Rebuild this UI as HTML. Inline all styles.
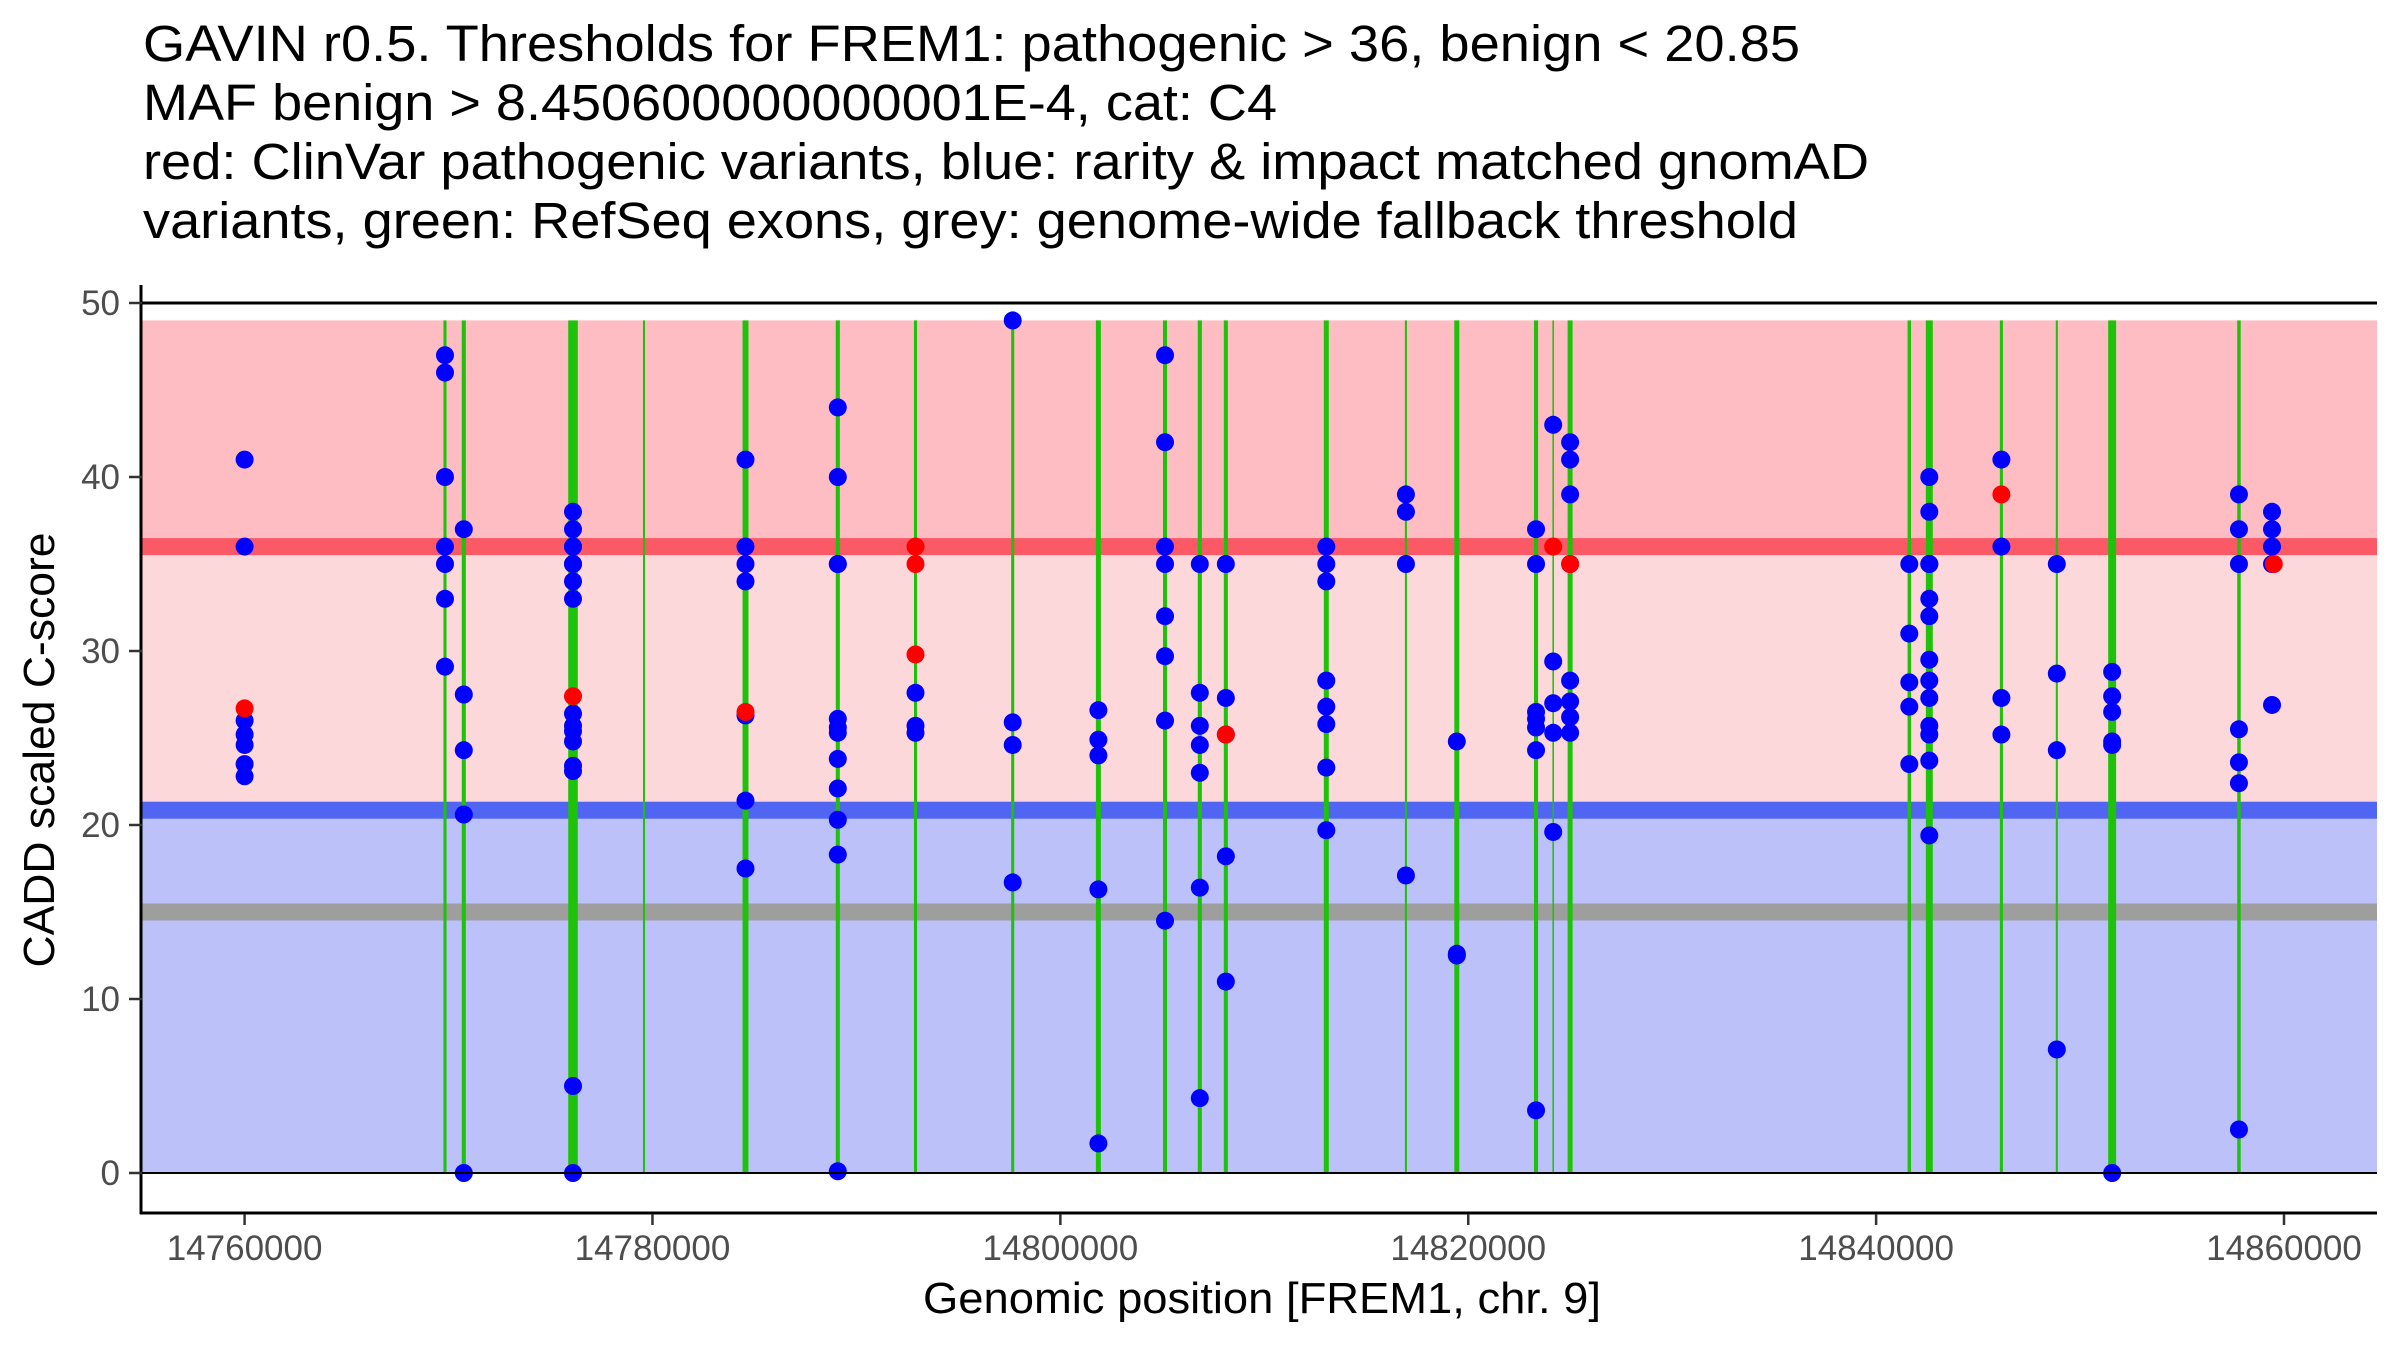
<!DOCTYPE html>
<html><head><meta charset="utf-8"><style>
html,body{margin:0;padding:0;background:#fff;}
svg{display:block;font-family:"Liberation Sans",Arial,sans-serif;}
</style></head><body>
<svg id="chart" width="2400" height="1350" viewBox="0 0 2400 1350">
<g font-size="51" fill="#000">
<text x="143" y="61" textLength="1657" lengthAdjust="spacingAndGlyphs">GAVIN r0.5. Thresholds for FREM1: pathogenic &gt; 36, benign &lt; 20.85</text>
<text x="143" y="120" textLength="1134" lengthAdjust="spacingAndGlyphs">MAF benign &gt; 8.450600000000001E-4, cat: C4</text>
<text x="143" y="179" textLength="1726" lengthAdjust="spacingAndGlyphs">red: ClinVar pathogenic variants, blue: rarity &amp; impact matched gnomAD</text>
<text x="143" y="238" textLength="1655" lengthAdjust="spacingAndGlyphs">variants, green: RefSeq exons, grey: genome-wide fallback threshold</text>
</g>
<g id="bands"></g>
<g id="exons"></g>
<g id="points"></g>
<g id="axes"></g>
<text x="1262" y="1313" font-size="44" textLength="678" lengthAdjust="spacingAndGlyphs" text-anchor="middle">Genomic position [FREM1, chr. 9]</text>
<text transform="translate(54,750) rotate(-90)" font-size="44" textLength="435" lengthAdjust="spacingAndGlyphs" text-anchor="middle">CADD scaled C-score</text>
</svg>
<script>
const xTicks = [14760000, 14780000, 14800000, 14820000, 14840000, 14860000];
const yTicks = [0, 10, 20, 30, 40, 50];
const thresholds = [36, 20.85, 15];
const bandTop = [49];
const exonStart = [14769751,14770648,14775868,14779534,14784416,14788987,14792822,14797588,14801742,14805032,14806738,14808014,14812917,14816894,14819317,14823224,14824128,14824872,14841542,14842438,14846068,14848810,14851378,14857706];
const exonEnd   = [14769901,14770848,14776338,14779634,14784706,14789187,14792972,14797738,14801987,14805232,14806938,14808214,14813162,14816994,14819562,14823424,14824204,14825117,14841712,14842778,14846218,14848910,14851768,14857876];
const groupPos = [14760000,14769826,14770748,14776103,14784561,14789087,14792897,14797663,14801865,14805132,14806838,14808114,14813040,14816944,14819440,14823324,14824166,14824995,14841627,14842608,14846143,14848860,14851573,14857791,14859412];
const groupScores = [
[41,36,26,25.2,24.6,23.5,22.8],
[47,46,40,36,35,33,29.1],
[37,27.5,24.3,20.6,0],
[38,37,36,36,35,35,34,33,26.4,25.7,25.4,24.8,23.4,23.1,5,0],
[41,36,35,34,26.3,21.4,17.5],
[44,40,35,35,26.1,25.6,25.3,23.8,22.1,20.3,18.3,0.1],
[27.6,25.7,25.3],
[49,25.9,24.6,16.7],
[26.6,24.9,24.0,16.3,1.7],
[47,42,36,35,32,29.7,26,14.5],
[35,27.6,25.7,24.6,23,16.4,4.3],
[35,27.3,25.2,18.2,11],
[36,35,34,28.3,26.8,25.8,23.3,19.7],
[39,38,35,17.1],
[24.8,12.6,12.5],
[37,35,26.5,26.1,25.6,24.3,3.6],
[43,29.4,27,25.3,19.6],
[42,41,39,35,28.3,27.1,26.2,25.3],
[35,31,28.2,26.8,23.5],
[40,38,35,35,33,32,29.5,28.3,27.3,25.7,25.2,23.7,19.4],
[41,36,27.3,25.2],
[35,28.7,24.3,7.1],
[28.8,27.4,26.5,24.8,24.6,0],
[39,37,35,25.5,23.6,22.4,2.5],
[38,37,36,35,26.9]];
const redPos = [14760000,14776103,14784561,14792897,14792897,14792897,14808114,14824166,14824995,14846143,14859500];
const redScores = [26.7,27.4,26.5,36,35,29.8,25.2,36,35,39,35];

const X0=244.6, XS=2039.4/100000, XMIN=14760000;
const Y0=1173, YS=17.4;
function xs(g){return X0+(g-XMIN)*XS;}
function ys(v){return Y0-v*YS;}
const NS='http://www.w3.org/2000/svg';
function mk(tag,attrs,parent){const e=document.createElementNS(NS,tag);for(const k in attrs)e.setAttribute(k,attrs[k]);parent.appendChild(e);return e;}
const PL=142, PR=2377;
const bands=document.getElementById('bands');
let r;
r=mk('rect',{x:PL,y:ys(bandTop[0]),width:PR-PL,height:ys(thresholds[0])-ys(bandTop[0]),fill:'#FDBDC2'},bands);


r=mk('rect',{x:PL,y:ys(thresholds[0]),width:PR-PL,height:ys(thresholds[1])-ys(thresholds[0]),fill:'#FDD8DB'},bands);


r=mk('rect',{x:PL,y:ys(thresholds[1]),width:PR-PL,height:ys(0)-ys(thresholds[1]),fill:'#BCC1F9'},bands);


r=mk('rect',{x:PL,y:ys(thresholds[0])-8.5,width:PR-PL,height:17,fill:'#FC5966'},bands);


r=mk('rect',{x:PL,y:ys(thresholds[1])-8.5,width:PR-PL,height:17,fill:'#5065F1'},bands);


r=mk('rect',{x:PL,y:ys(thresholds[2])-8.5,width:PR-PL,height:17,fill:'#9E9E9E'},bands);



const exons=document.getElementById('exons');
for(let i=0;i<exonStart.length;i++){
  const x1=xs(exonStart[i]), x2=xs(exonEnd[i]);
  const w=Math.max(1.5,x2-x1);
  const e=mk('rect',{x:(x1+x2)/2-w/2,y:ys(bandTop[0]),width:w,height:ys(0)-ys(bandTop[0]),fill:'#1EC20A'},exons);
  
  
}
const pts=document.getElementById('points');
for(let i=0;i<groupPos.length;i++){
  for(const v of groupScores[i]){
    const c=mk('circle',{cx:xs(groupPos[i]),cy:ys(v),r:9,fill:'#0000FF'},pts);
    
    
  }
}
for(let i=0;i<redPos.length;i++){
  const c=mk('circle',{cx:xs(redPos[i]),cy:ys(redScores[i]),r:9,fill:'#FF0000'},pts);
  
  
}
const axes=document.getElementById('axes');
let l;
l=mk('line',{x1:PL-1,y1:285,x2:PL-1,y2:1214,stroke:'#000','stroke-width':3},axes);


l=mk('line',{x1:PL-2,y1:1213,x2:PR,y2:1213,stroke:'#000','stroke-width':3},axes);


l=mk('line',{x1:PL,y1:ys(50),x2:PR,y2:ys(50),stroke:'#000','stroke-width':3},axes);


l=mk('line',{x1:PL,y1:ys(0),x2:PR,y2:ys(0),stroke:'#000','stroke-width':2},axes);


for(const t of yTicks){
  const tk=mk('line',{x1:PL-13,y1:ys(t),x2:PL,y2:ys(t),stroke:'#333','stroke-width':2.5},axes);
  
  
  const tx=mk('text',{x:PL-22,y:ys(t)+12,'font-size':35,'text-anchor':'end',fill:'#4d4d4d'},axes);
  tx.textContent=t;
  
  
}
for(const t of xTicks){
  const tk=mk('line',{x1:xs(t),y1:1214,x2:xs(t),y2:1225,stroke:'#333','stroke-width':2.5},axes);
  
  
  const tx=mk('text',{x:xs(t),y:1260,'font-size':35,'text-anchor':'middle',fill:'#4d4d4d'},axes);
  tx.textContent=t;
  
  
}
</script>
</body></html>
